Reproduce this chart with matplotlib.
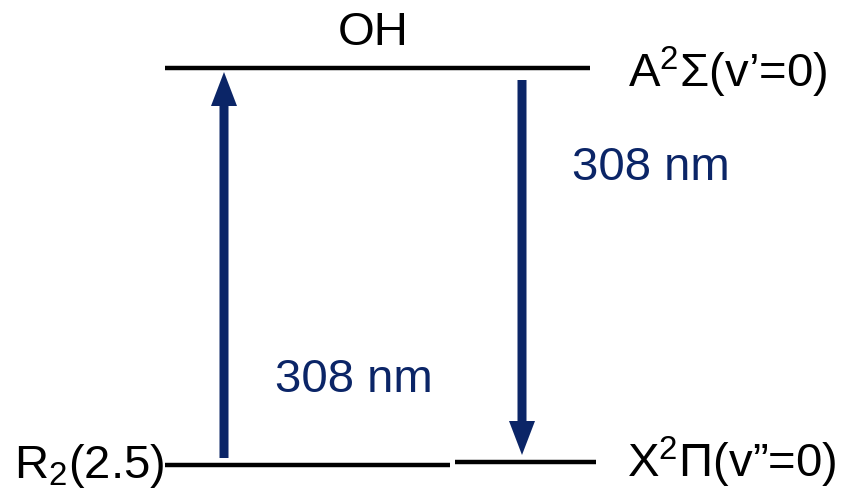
import matplotlib.pyplot as plt
from matplotlib.patches import FancyArrow

plt.rcParams['font.family'] = ['Liberation Sans', 'DejaVu Sans']
plt.rcParams['mathtext.fontset'] = 'custom'
plt.rcParams['mathtext.rm'] = 'Liberation Sans'
plt.rcParams['mathtext.it'] = 'Liberation Sans'

# energy levels: (x start, x end, y) in pixel space of the picture
level_x0 = [165, 165, 455]
level_x1 = [590, 450, 596]
level_y = [68, 465, 462]

# transitions: x, y start, y end
arrow_x = [224, 522]
arrow_y0 = [458, 80]
arrow_y1 = [72, 455]

navy = '#0b2567'

fig = plt.figure(figsize=(8.56, 4.94), dpi=100)
ax = fig.add_axes([0, 0, 1, 1])
ax.set_xlim(0, 856)
ax.set_ylim(494, 0)
ax.axis('off')

for x0, x1, y in zip(level_x0, level_x1, level_y):
    ax.plot([x0, x1], [y, y], color='black', lw=3.2, solid_capstyle='butt')

for x, y0, y1 in zip(arrow_x, arrow_y0, arrow_y1):
    ax.add_patch(FancyArrow(x, y0, 0, y1 - y0, width=9, head_width=26,
                            head_length=34, length_includes_head=True,
                            color=navy, lw=0))

fs = 34
ax.text(373, 33, 'OH', fontsize=fs, ha='center', va='center')
ax.text(628, 72, r'A$\mathregular{^2}$Σ(v’=0)', fontsize=fs, ha='left', va='center')
ax.text(627, 462, r'X$\mathregular{^2}$Π(v”=0)', fontsize=fs, ha='left', va='center')
ax.text(14, 466, r'R$\mathregular{_2}$(2.5)', fontsize=fs, ha='left', va='center')
ax.text(572, 168, '308 nm', fontsize=fs, ha='left', va='center', color=navy)
ax.text(275, 380, '308 nm', fontsize=fs, ha='left', va='center', color=navy)

fig.savefig('out.png', dpi=100)
